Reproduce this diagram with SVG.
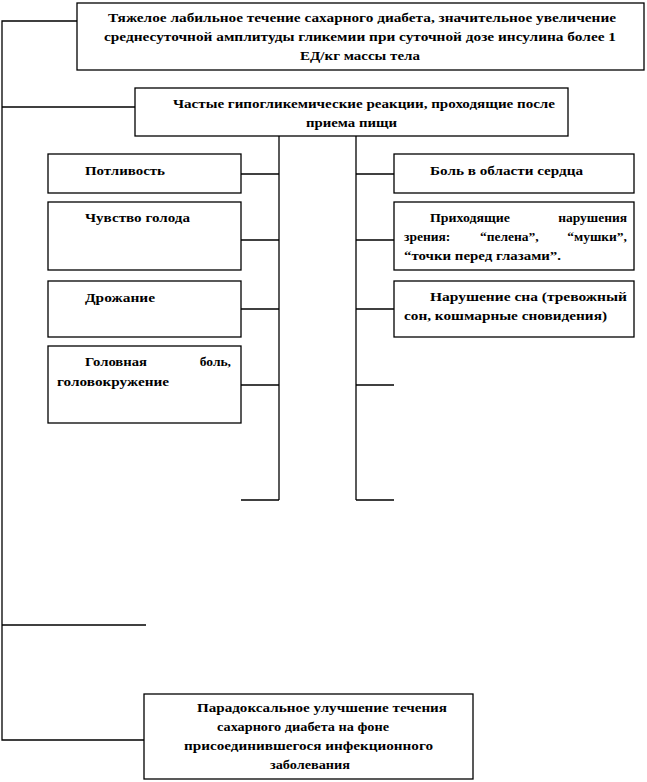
<svg xmlns="http://www.w3.org/2000/svg" width="647" height="782" viewBox="0 0 647 782">
<style>
.box{fill:#fff;stroke:#000;stroke-width:1.3}
.ln{fill:none;stroke:#000;stroke-width:1.3}
text{font-family:"Liberation Serif","Times New Roman",serif;font-weight:bold;font-size:13.5px;fill:#000}
.e{text-anchor:end}
</style>
<rect width="647" height="782" fill="#fff"/>
<g id="connectors">
<polyline class="ln" points="77,21 2,21 2,740 145,740"/>
<line class="ln" x1="2" y1="107" x2="135" y2="107"/>
<line class="ln" x1="2" y1="625" x2="146" y2="625"/>
<line class="ln" x1="279" y1="136" x2="279" y2="500"/>
<line class="ln" x1="356" y1="136" x2="356" y2="500"/>
<line class="ln" x1="241" y1="174" x2="279" y2="174"/>
<line class="ln" x1="241" y1="240" x2="279" y2="240"/>
<line class="ln" x1="241" y1="309" x2="279" y2="309"/>
<line class="ln" x1="241" y1="385" x2="279" y2="385"/>
<line class="ln" x1="241" y1="500" x2="279" y2="500"/>
<line class="ln" x1="356" y1="174" x2="394" y2="174"/>
<line class="ln" x1="356" y1="240" x2="394" y2="240"/>
<line class="ln" x1="356" y1="309" x2="394" y2="309"/>
<line class="ln" x1="356" y1="385" x2="394" y2="385"/>
<line class="ln" x1="356" y1="500" x2="394" y2="500"/>
</g>
<g id="n-top">
<rect class="box" x="77" y="3" width="567" height="67"/>
<text x="108" y="22" textLength="508" lengthAdjust="spacingAndGlyphs">Тяжелое лабильное течение сахарного диабета, значительное увеличение</text>
<text x="104" y="41" textLength="512" lengthAdjust="spacingAndGlyphs">среднесуточной амплитуды гликемии при суточной дозе инсулина более 1</text>
<text x="300" y="60" textLength="120" lengthAdjust="spacingAndGlyphs">ЕД/кг массы тела</text>
</g>
<g id="n-hypo">
<rect class="box" x="135" y="88" width="433" height="48"/>
<text x="173" y="108" textLength="382" lengthAdjust="spacingAndGlyphs">Частые гипогликемические реакции, проходящие после</text>
<text x="306" y="127" textLength="91" lengthAdjust="spacingAndGlyphs">приема пищи</text>
</g>
<g id="n-sweat">
<rect class="box" x="48" y="154" width="193" height="39"/>
<text x="85" y="175" textLength="80" lengthAdjust="spacingAndGlyphs">Потливость</text>
</g>
<g id="n-hunger">
<rect class="box" x="48" y="202" width="193" height="68"/>
<text x="85" y="222" textLength="105" lengthAdjust="spacingAndGlyphs">Чувство голода</text>
</g>
<g id="n-tremor">
<rect class="box" x="48" y="281" width="193" height="56"/>
<text x="85" y="302" textLength="70" lengthAdjust="spacingAndGlyphs">Дрожание</text>
</g>
<g id="n-headache">
<rect class="box" x="48" y="346" width="193" height="77"/>
<text x="85" y="366" textLength="62" lengthAdjust="spacingAndGlyphs">Головная</text>
<text class="e" x="231" y="366">боль,</text>
<text x="57" y="386" textLength="112" lengthAdjust="spacingAndGlyphs">головокружение</text>
</g>
<g id="n-heart">
<rect class="box" x="394" y="154" width="240" height="39"/>
<text x="430" y="175" textLength="153" lengthAdjust="spacingAndGlyphs">Боль в области сердца</text>
</g>
<g id="n-vision">
<rect class="box" x="394" y="202" width="240" height="68"/>
<text x="430" y="222" textLength="80" lengthAdjust="spacingAndGlyphs">Приходящие</text>
<text class="e" x="627" y="222">нарушения</text>
<text x="404" y="241">зрения:</text>
<text x="480" y="241">“пелена”,</text>
<text class="e" x="627" y="241">“мушки”,</text>
<text x="404" y="260" textLength="157" lengthAdjust="spacingAndGlyphs">“точки перед глазами”.</text>
</g>
<g id="n-sleep">
<rect class="box" x="394" y="281" width="240" height="56"/>
<text x="430" y="301" textLength="197" lengthAdjust="spacingAndGlyphs">Нарушение сна (тревожный</text>
<text x="404" y="320" textLength="203" lengthAdjust="spacingAndGlyphs">сон, кошмарные сновидения)</text>
</g>
<g id="n-paradox">
<rect class="box" x="144" y="694" width="329" height="85"/>
<text x="197" y="712" textLength="250" lengthAdjust="spacingAndGlyphs">Парадоксальное улучшение течения</text>
<text x="217" y="731" textLength="172" lengthAdjust="spacingAndGlyphs">сахарного диабета на фоне</text>
<text x="184" y="750" textLength="249" lengthAdjust="spacingAndGlyphs">присоединившегося инфекционного</text>
<text x="270" y="769" textLength="80" lengthAdjust="spacingAndGlyphs">заболевания</text>
</g>
</svg>
